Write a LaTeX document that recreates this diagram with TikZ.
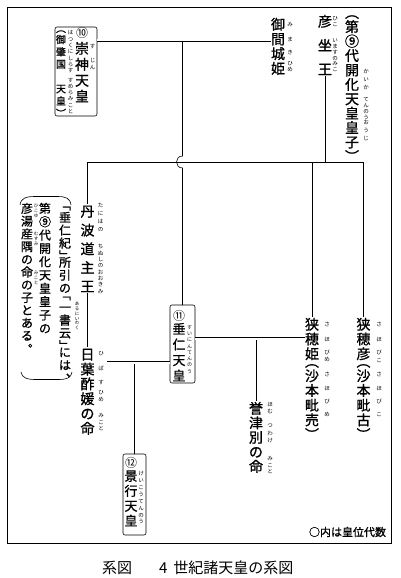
\documentclass[tikz,border=0pt]{standalone}
\usepackage{fontspec}
\usepackage{graphicx}
\newfontfamily\jp{Noto Sans CJK JP}
\newfontfamily\jpb[FakeBold=1]{Noto Sans CJK JP}
\newdimen\vtp
\newdimen\vtg
\newcommand\vtbox[1]{\hbox to 1em{\vrule height .88em depth .12em width 0pt\hss#1\hss}}
\newcommand\vtrot[1]{\hbox{\rotatebox[origin=c]{-90}{\vtbox{#1}}}}
\newcommand\vtnormal[1]{\vtbox{#1}\vskip\vtg}
\newcommand\vtopen[1]{\vbox to .5em{\vss\vtrot{#1}\kern0pt}\vskip.5\vtg}
\newcommand\vtclose[1]{\vbox to .5em{\vtrot{#1}\vss\kern0pt}\vskip.5\vtg}
\newcommand\vtpunct[1]{\hbox to 1em{\vrule height .88em depth .12em width 0pt\kern.58em\raise.5em\hbox to 0pt{\smash{#1}\hss}\hss}\vskip\vtg}
\ExplSyntaxOn
\cs_new_protected:Npn \vtcell:n #1
 {
  \str_case:nnF {#1}
   {
    { （ } { \vtopen {#1} }
    { 「 } { \vtopen {#1} }
    { ） } { \vtclose {#1} }
    { 」 } { \vtclose {#1} }
    { 、 } { \vtpunct {#1} }
    { 。 } { \vtpunct {#1} }
   }
   { \vtnormal {#1} }
 }
\NewDocumentCommand \vt { O{1} m }
 {
  \dim_set:Nn \vtp { #1 em }
  \dim_set:Nn \vtg { \vtp - 1em }
  \vbox { \offinterlineskip \tl_map_inline:nn {#2} { \vtcell:n {##1} } \unskip }
 }
\ExplSyntaxOff
\begin{document}
\begin{tikzpicture}[x=1pt,y=-1pt,
  every node/.style={inner sep=0pt, outer sep=0pt},
  nm/.style={font=\jpb\fontsize{14}{14}\selectfont, anchor=north},
  sm/.style={font=\jpb\fontsize{13}{13}\selectfont, anchor=north},
  circ/.style={font=\jp\fontsize{12}{12}\selectfont, anchor=north},
  nt/.style={font=\jpb\fontsize{12}{12}\selectfont, anchor=north},
  rb/.style={font=\jp\fontsize{5.5}{5.5}\selectfont, anchor=north},
  rbs/.style={font=\jp\fontsize{4.5}{4.5}\selectfont, anchor=north},
  ebox/.style={draw, line width=0.6pt, rounded corners=2pt},
  ln/.style={line width=0.6pt},
  dbl/.style={double, double distance=2pt, line width=0.5pt},
]
\fill[white] (0,0) rectangle (400,578);
\useasboundingbox (0,0) rectangle (400,578);
\draw[line width=0.9pt] (7,7) rectangle (391,543);

% ---- top: Hikoimasu, Mimaki, Sujin
\node[nm] (kaika) at (352,12.5) {\vt[1.03]{（第⑨代開化天皇皇子）}};
\node[rb] (kaikar1) at (366,69) {\vt[1.4]{かいか}};
\node[rb] (kaikar2) at (366,97) {\vt[1.1]{てんのう}};
\node[rb] (kaikar3) at (366,120) {\vt[1.4]{おうじ}};

\node[nm] (hiko) at (325,14.3) {\vt[1.714]{彦坐王}};
\node[rb] (hikor1) at (335,16) {\vt[1.1]{ひこ}};
\node[rb] (hikor2) at (335,38) {\vt[1.1]{いますの}};
\node[rb] (hikor3) at (335,61) {\vt[1.1]{みこ}};

\node[nm] (mimaki) at (278,17.3) {\vt[1.05]{御間城姫}};
\node[rb] (mimakir1) at (290,22) {\vt{み}};
\node[rb] (mimakir2) at (290,37) {\vt{ま}};
\node[rb] (mimakir3) at (290,50) {\vt{き}};
\node[rb] (mimakir4) at (290,61) {\vt[1.1]{ひめ}};

\node[ebox, minimum width=42, minimum height=89] (b10) at (76,71.5) {};
\node[circ] (n10) at (82,26.5) {\vt{⑩}};
\node[nm] (sujin) at (82,41.3) {\vt[1.143]{崇神天皇}};
\node[rb] (sujinr1) at (92.5,44) {\vt{す}};
\node[rb] (sujinr2) at (92.5,58) {\vt[1.2]{じん}};
\node[font=\jpb\fontsize{10}{10}\selectfont, anchor=north] (hatsu) at (61,28.4) {\vt[1.23]{（御肇国　天皇）}};
\node[rb] (hatsur1) at (70.5,30) {\vt[1.15]{はつくにしらす}};
\node[rb] (hatsur2) at (70.5,78) {\vt[1.1]{すめらみこと}};

% ---- second generation
\node[nm] (tanba) at (87.5,204.3) {\vt[1.34]{丹波道主王}};
\node[rb] (tanbar1) at (100.5,203) {\vt[1.45]{たにはの}};
\node[rb] (tanbar2) at (100.5,244) {\vt[1.15]{ちぬしのおおきみ}};

\node[nm] (sahohime) at (312,317.3) {\vt[1.05]{狭穂姫（沙本毗売）}};
\node[rb] (sahohimer1) at (327,322) {\vt[2.7]{さほ}};
\node[rb] (sahohimer2) at (327,350) {\vt[1.3]{びめ}};
\node[rb] (sahohimer3) at (327,372) {\vt[2.42]{さほびめ}};

\node[nm] (sahobiko) at (363.5,317.3) {\vt[1.05]{狭穂彦（沙本毗古）}};
\node[rb] (sahobikor1) at (379,322) {\vt[2.7]{さほ}};
\node[rb] (sahobikor2) at (379,350) {\vt[1.4]{びこ}};
\node[rb] (sahobikor3) at (379,372) {\vt[2.42]{さほびこ}};

\node[ebox, minimum width=25, minimum height=78] (b11) at (182.5,344) {};
\node[circ] (n11) at (179,309.5) {\vt{⑪}};
\node[sm] (suinin) at (179,322.4) {\vt[1.2]{垂仁天皇}};
\node[font=\jp\fontsize{5}{5}\selectfont, anchor=north] (suininr) at (189.5,325) {\vt[1.25]{すいにんてんのう}};

% ---- third generation
\node[nm] (hibasu) at (87.5,347.3) {\vt[1.057]{日葉酢媛の命}};
\node[rb] (hibasur1) at (101,351) {\vt{ひ}};
\node[rb] (hibasur2) at (101,366) {\vt{ば}};
\node[rb] (hibasur3) at (101,380) {\vt{す}};
\node[rb] (hibasur4) at (101,390) {\vt[1.2]{ひめ}};
\node[rb] (hibasur5) at (101,413) {\vt[1.15]{みこと}};

\node[nm] (homutsu) at (256,401.3) {\vt[1.036]{誉津別の命}};
\node[rb] (homutsur1) at (270,402) {\vt[1.2]{ほむ}};
\node[rb] (homutsur2) at (270,423) {\vt{つ}};
\node[rb] (homutsur3) at (270,431) {\vt[1.2]{わけ}};
\node[rb] (homutsur4) at (270,456) {\vt[1.15]{みこと}};

\node[ebox, minimum width=23, minimum height=81] (b12) at (134.5,494.5) {};
\node[circ] (n12) at (131,457) {\vt{⑫}};
\node[sm] (keiko) at (131,469.4) {\vt[1.15]{景行天皇}};
\node[rb] (keikor) at (141,471) {\vt[1.25]{けいこうてんのう}};

% ---- note
\node[nt] (note1) at (65,204.9) {\vt[1.07]{「垂仁紀」所引の「一書云」には、}};
\node[rbs] (note1r) at (77,302) {\vt[1.05]{あるにいわく}};
\node[nt] (note2) at (45,202.4) {\vt[1.11]{第⑨代開化天皇皇子の}};
\node[nt] (note3) at (27,202.4) {\vt[1.06]{彦湯産隅の命の子とある。}};
\node[rbs] (note3r1) at (36,204) {\vt[1.05]{ひこゆ}};
\node[rbs] (note3r2) at (36,232) {\vt[1.05]{むすみ}};
\node[rbs] (note3r3) at (36,271) {\vt[1.05]{みこと}};
\draw[ln] (20,205) .. controls (21,198) and (26,196.5) .. (35,196.5) -- (57,196.5) .. controls (66,196.5) and (70,198) .. (71,205);
\draw[ln] (21,372) .. controls (22,378) and (27,379.5) .. (36,379.5) -- (58,379.5) .. controls (67,379.5) and (71,378) .. (72,372);

% ---- legend and caption
\node[font=\jpb\fontsize{11}{11}\selectfont, anchor=east] (legend) at (386,532) {○内は皇位代数};
\node[font=\jp\fontsize{15}{15}\selectfont, anchor=west] (cap1) at (102,568) {系図};
\node[font=\jp\fontsize{15}{15}\selectfont, anchor=west] (cap2) at (159,568) {4\hspace{6pt}世紀諸天皇の系図};

% ---- connectors
\coordinate (j1) at (182.5,40.5);
\coordinate (jt) at (182.5,156);
\coordinate (jb) at (182.5,168);
\coordinate (hbar) at (0,162);
\coordinate (j2) at (134.5,362.5);
\coordinate (hibR) at (107,362.5);
\coordinate (j3) at (256,338.5);

\draw[ln] (hiko.south) -- (hiko.south |- hbar);
\draw[ln] (tanba.north |- hbar) -- (sahobiko.north |- hbar);
\draw[ln] (tanba.north |- hbar) -- (tanba.north);
\draw[ln] (sahohime.north |- hbar) -- (sahohime.north);
\draw[ln] (sahobiko.north |- hbar) -- (sahobiko.north);
\draw[ln] (j1) -- (jt) .. controls +(-8,0) and +(-8,0) .. (jb) -- (b11.north);
\draw[ln] (tanba.south) -- (hibasu.north);
\draw[ln] (j2) -- (b12.north);
\draw[ln] (j3) -- (homutsu.north);
\draw[dbl] (b10.east |- j1) -- (mimaki.west |- j1);
\draw[dbl] (hibR) -- (b11.west |- j2);
\draw[dbl] (b11.east |- j3) -- (sahohime.west |- j3);
\end{tikzpicture}
\end{document}
